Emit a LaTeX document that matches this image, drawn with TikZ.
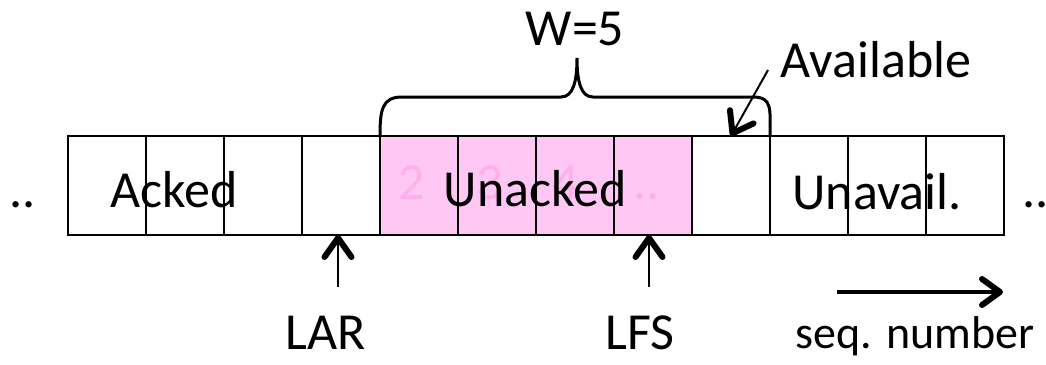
\documentclass[tikz,border=0pt]{standalone}
\usepackage{fontspec}
\setmainfont{Carlito}
\usetikzlibrary{arrows.meta}
\definecolor{unackfill}{RGB}{255,199,244}
\definecolor{unacknum}{RGB}{255,176,236}
\begin{document}
\begin{tikzpicture}[x=1pt,y=-1pt,
  font=\fontsize{52}{60}\selectfont,
  cell/.style={draw, line width=1.6pt, minimum width=78pt, minimum height=99pt,
    inner sep=0pt, outer sep=0pt, anchor=north west},
  pinkcell/.style={cell, fill=unackfill},
  lbl/.style={anchor=base, inner sep=0pt},
  faint/.style={lbl, text=unacknum},
  arr/.style={line width=2pt, arrows={-Straight Barb[length=19pt,width=27pt,line width=6pt,round]}},
  bigarr/.style={line width=3.5pt, arrows={-Straight Barb[length=18pt,width=26pt,line width=6pt,round]}},
  bracestyle/.style={line width=3pt, line cap=round}]
\useasboundingbox (0,0) rectangle (1046,364);
% cells
\foreach \i in {1,2,3,4,9,10,11,12}
  \node[cell] (c\i) at ({68+78*(\i-1)},136) {};
\foreach \i in {5,6,7,8}
  \node[pinkcell] (c\i) at ({68+78*(\i-1)},136) {};
% faint numbers
\node[faint] (n2) at (412,199) {2};
\node[faint] (n3) at (490,199) {3};
\node[faint] (n4) at (566,199) {4};
\node[faint] (n5) at (647,199) {..};
% labels
\node[lbl] (acked) at (174,207) {Acked};
\node[lbl] (unacked) at (535,206) {Unacked};
\node[lbl] (unavail) at (877,209) {Unavail.};
\node[lbl] (ldots) at (22.5,207) {..};
\node[lbl] (rdots) at (1036,207) {..};
\node[lbl] (avail) at (876,77) {Available};
\node[lbl] (w) at (575,45) {W=5};
\node[lbl] (lar) at (326,349) {LAR};
\node[lbl] (lfs) at (640,349) {LFS};
\node[lbl, font=\fontsize{46}{54}\selectfont] (seq) at (915,348) {seq. number};
% brace
\draw[bracestyle] (c5.north west) .. controls ++(0,-26) and ++(-20,0) .. ++(22,-39)
  -- (561,97) .. controls ++(12,0) and ++(0,24) .. (577,58)
  .. controls ++(0,24) and ++(-12,0) .. (593,97)
  -- (753,97) .. controls ++(20,0) and ++(0,-26) .. (c9.north east);
% arrows
\coordinate (lartail) at (338,287);
\coordinate (lfstail) at (649,287);
\coordinate (avtail) at (768,70);
\coordinate (seqtail) at (837,292);
\coordinate (seqhead) at (1003,292);
\draw[arr] (lartail) -- ([xshift=-3pt]c4.south);
\draw[arr] (lfstail) -- ([xshift=-4pt]c8.south);
\draw[arr] (avtail) -- (c9.north);
\draw[bigarr] (seqtail) -- (seqhead);
\end{tikzpicture}
\end{document}
